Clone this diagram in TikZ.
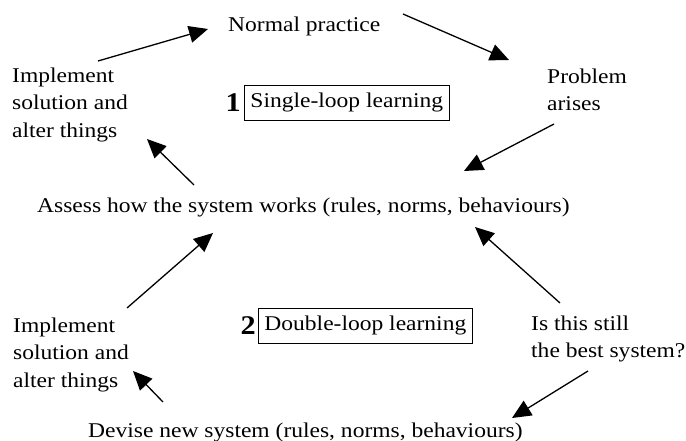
\documentclass[tikz,border=0pt]{standalone}
\usepackage{fontspec}
\setmainfont{Liberation Serif}[FakeStretch=1.12]
\usetikzlibrary{arrows.meta}
\begin{document}
\begin{tikzpicture}[x=1pt,y=-1pt,
  lbl/.style={inner sep=0pt, font=\fontsize{21}{27.5}\selectfont},
  multi/.style={lbl, align=left, anchor=north west},
  boxlbl/.style={draw=black, line width=0.9pt, inner xsep=6pt, inner ysep=0pt,
    minimum height=35pt, anchor=west, font=\fontsize{21}{27.5}\selectfont},
  num/.style={inner sep=0pt, anchor=base east, font=\fontsize{27}{30}\selectfont\bfseries},
  arr/.style={line width=1.3pt, -{Triangle[length=19pt,width=17pt]}}]
\useasboundingbox (0,0) rectangle (686,441);

% single-loop cycle
\node[lbl, anchor=base west] (normal) at (228,32) {Normal practice};
\node[multi] (impl1) at (12,67.5) {Implement\\solution and\\alter things};
\node[multi] (problem) at (547,68.5) {Problem\\arises};
\node[lbl, anchor=base west] (assess) at (37,212) {Assess how the system works (rules, norms, behaviours)};
\node[num] (one) at (241,112) {1};
\node[boxlbl] (single) at (244,102.5) {Single-loop learning};

% double-loop cycle
\node[multi] (impl2) at (13,317.5) {Implement\\solution and\\alter things};
\node[multi] (still) at (531,315.5) {Is this still\\the best system?};
\node[lbl, anchor=base west] (devise) at (88,437) {Devise new system (rules, norms, behaviours)};
\node[num] (two) at (256,334) {2};
\node[boxlbl] (double) at (258,325.5) {Double-loop learning};

% connector end points
\coordinate (implout1) at (98,61);   \coordinate (normalin) at (208,29);
\coordinate (normalout) at (403,14); \coordinate (problemin) at (509,60);
\coordinate (problemout) at (554,124); \coordinate (assessinR) at (464,171);
\coordinate (assessout) at (194,185); \coordinate (implin1) at (147,139);
\coordinate (implout2) at (127,308); \coordinate (assessinL) at (213,233);
\coordinate (stillup) at (560,303);  \coordinate (assessinR2) at (475,227);
\coordinate (stilldown) at (588,371); \coordinate (devisein) at (512,418);
\coordinate (deviseout) at (163,402); \coordinate (implin2) at (133,371);

\draw[arr] (implout1) -- (normalin);
\draw[arr] (normalout) -- (problemin);
\draw[arr] (problemout) -- (assessinR);
\draw[arr] (assessout) -- (implin1);
\draw[arr] (implout2) -- (assessinL);
\draw[arr] (stillup) -- (assessinR2);
\draw[arr] (stilldown) -- (devisein);
\draw[arr] (deviseout) -- (implin2);
\end{tikzpicture}
\end{document}
